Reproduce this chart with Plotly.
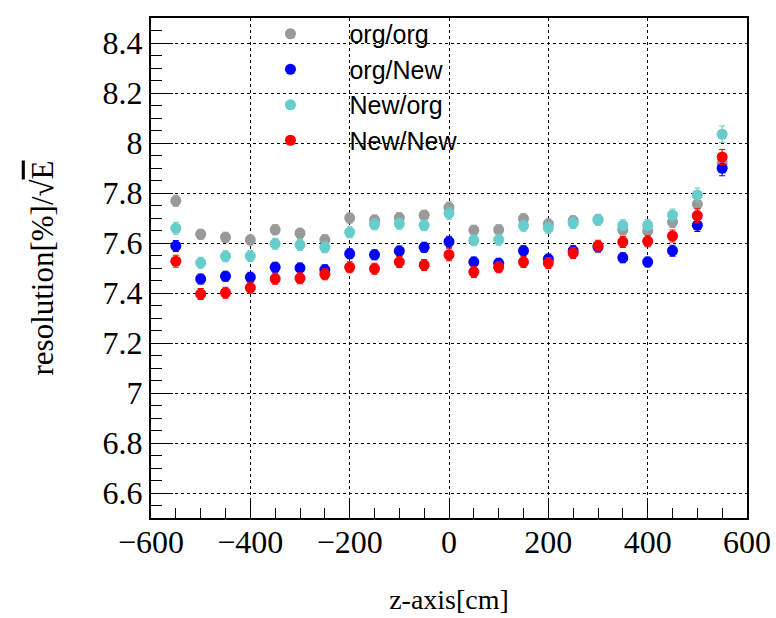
import plotly.graph_objects as go

z = [-550, -500, -450, -400, -350, -300, -250, -200, -150, -100, -50, 0,
     50, 100, 150, 200, 250, 300, 350, 400, 450, 500, 550]

org_org = [7.769, 7.635, 7.623, 7.612, 7.653, 7.639, 7.613, 7.700, 7.692, 7.701, 7.711, 7.742,
           7.651, 7.653, 7.697, 7.676, 7.689, 7.693, 7.652, 7.648, 7.684, 7.755, 7.920]
org_new = [7.588, 7.456, 7.467, 7.463, 7.503, 7.500, 7.493, 7.557, 7.553, 7.568, 7.583, 7.605,
           7.524, 7.519, 7.569, 7.536, 7.569, 7.584, 7.541, 7.524, 7.569, 7.671, 7.899]
new_org = [7.659, 7.521, 7.547, 7.548, 7.597, 7.593, 7.583, 7.643, 7.675, 7.677, 7.671, 7.719,
           7.611, 7.613, 7.669, 7.661, 7.680, 7.693, 7.671, 7.671, 7.712, 7.792, 8.035]
new_new = [7.527, 7.396, 7.401, 7.421, 7.457, 7.459, 7.475, 7.503, 7.497, 7.524, 7.512, 7.553,
           7.484, 7.503, 7.524, 7.520, 7.560, 7.589, 7.604, 7.607, 7.628, 7.709, 7.944]

err_org_org = [0.022, 0.020, 0.020, 0.020, 0.020, 0.020, 0.020, 0.020, 0.020, 0.020, 0.020, 0.022,
               0.020, 0.020, 0.020, 0.020, 0.020, 0.020, 0.020, 0.020, 0.022, 0.025, 0.030]
err_org_new = [0.022, 0.020, 0.020, 0.020, 0.020, 0.020, 0.020, 0.020, 0.020, 0.020, 0.020, 0.022,
               0.020, 0.020, 0.020, 0.020, 0.020, 0.020, 0.020, 0.020, 0.022, 0.025, 0.030]
err_new_org = [0.024, 0.022, 0.022, 0.022, 0.022, 0.022, 0.022, 0.022, 0.022, 0.022, 0.022, 0.024,
               0.022, 0.022, 0.022, 0.022, 0.022, 0.022, 0.022, 0.022, 0.024, 0.028, 0.033]
err_new_new = [0.024, 0.022, 0.022, 0.022, 0.022, 0.022, 0.022, 0.022, 0.022, 0.022, 0.022, 0.024,
               0.022, 0.022, 0.022, 0.022, 0.022, 0.022, 0.022, 0.022, 0.024, 0.028, 0.030]

series = [
    ("org/org", org_org, err_org_org, "#999999"),
    ("org/New", org_new, err_org_new, "#0000ff"),
    ("New/org", new_org, err_new_org, "#66cccc"),
    ("New/New", new_new, err_new_new, "#ff0000"),
]

fig = go.Figure()
for name, vals, errs, col in series:
    fig.add_trace(go.Scatter(
        x=z, y=vals, mode="markers", name=name,
        marker=dict(color=col, size=11, symbol="circle"),
        error_y=dict(type="data", array=errs, color=col, thickness=1, width=3),
    ))

serif = "Liberation Serif"
axis_common = dict(
    showline=True, linecolor="black", linewidth=2, mirror=True,
    ticks="inside", tickcolor="black", tickwidth=1,
    showgrid=True, gridcolor="black", griddash="dot", gridwidth=1,
    zeroline=False, automargin=False,
    tickfont=dict(family=serif, size=32, color="black"),
)

fig.update_xaxes(
    range=[-600, 600], dtick=200, tick0=0, ticklen=18,
    minor=dict(dtick=50, ticklen=10, ticks="inside", tickcolor="black", showgrid=False),
    ticklabelstandoff=-5,
    title=dict(text="z-axis[cm]", font=dict(family=serif, size=28, color="black"), standoff=30),
    **axis_common,
)
fig.update_yaxes(
    range=[6.5, 8.5], dtick=0.2, tick0=0, ticklen=22,
    minor=dict(dtick=0.05, ticklen=11, ticks="inside", tickcolor="black", showgrid=False),
    title=dict(text="resolution[%]/√<span style='text-decoration:overline'>E</span>",
               font=dict(family=serif, size=31, color="black"), standoff=40),
    **axis_common,
)

fig.update_layout(
    width=776, height=618,
    margin=dict(l=151, r=29, t=17, b=100),
    font=dict(family=serif, color="black"),
    plot_bgcolor="white", paper_bgcolor="white",
    legend=dict(
        x=0.135, y=1.012, xanchor="left", yanchor="top",
        bgcolor="rgba(0,0,0,0)", borderwidth=0,
        font=dict(family="Liberation Sans", size=25, color="black"),
        itemwidth=108, tracegroupgap=0,
    ),
)

fig.write_html("out.html")
